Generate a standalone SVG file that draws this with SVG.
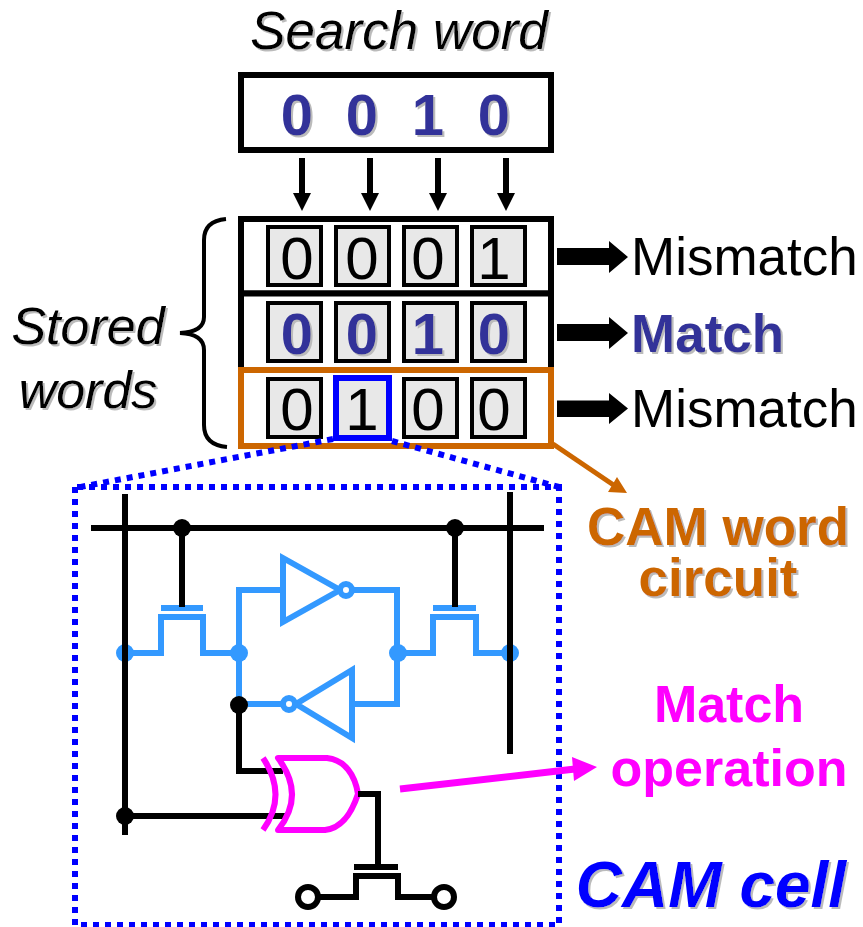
<svg xmlns="http://www.w3.org/2000/svg" width="863" height="927" viewBox="0 0 863 927">
<defs>
<filter id="sh" x="-10%" y="-20%" width="120%" height="140%"><feDropShadow dx="2" dy="2" stdDeviation="0.6" flood-color="#bbbbbb" flood-opacity="1"/></filter>
</defs>
<style>
text{font-family:"Liberation Sans",Arial,sans-serif;text-anchor:middle}
.it{font-style:italic;font-size:52px;fill:#000;filter:url(#sh)}
.bd{font-weight:bold;fill:#333399;filter:url(#sh)}
.d{font-size:58px}
.rg{font-size:60px;fill:#000}
.lb{font-size:53px;fill:#000;text-anchor:start}
.or{font-size:53px;font-weight:bold;fill:#cc6600;filter:url(#sh)}
.mg{font-size:52px;font-weight:bold;fill:#ff00ff}
.cell{fill:#e8e8e8;stroke:#000;stroke-width:4}
.word{fill:#fff;stroke:#000;stroke-width:6}
.w{fill:none;stroke:#000;stroke-width:6}
.b{fill:none;stroke:#3399ff;stroke-width:6}
.m{fill:none;stroke:#ff00ff;stroke-width:6;stroke-linejoin:round}
.dot{fill:none;stroke:#0000ff;stroke-width:6;stroke-dasharray:6 6}
.jk{fill:#000}.jb{fill:#3399ff}
</style>
<g id="search-title"><text class="it" x="399" y="49" style="font-size:53px">Search word</text></g>
<g id="search-word">
<rect class="word" x="241" y="75" width="310" height="75"/>
<text class="bd d" x="297" y="135">0</text><text class="bd d" x="362" y="135">0</text><text class="bd d" x="428" y="135">1</text><text class="bd d" x="494" y="135">0</text>
</g>
<g id="word-1">
<rect class="word" x="241" y="219" width="310" height="74.5"/>
<rect class="cell" x="268" y="227" width="53" height="58"/><rect class="cell" x="336" y="227" width="53" height="58"/><rect class="cell" x="404" y="227" width="53" height="58"/><rect class="cell" x="472" y="227" width="53" height="58"/>
<text class="rg" x="297" y="278.5">0</text><text class="rg" x="362" y="278.5">0</text><text class="rg" x="428" y="278.5">0</text><text class="rg" x="494" y="278.5">1</text>
</g>
<g id="word-2">
<rect class="word" x="241" y="293.5" width="310" height="76.5"/>
<rect class="cell" x="268" y="303" width="53" height="58"/><rect class="cell" x="336" y="303" width="53" height="58"/><rect class="cell" x="404" y="303" width="53" height="58"/><rect class="cell" x="472" y="303" width="53" height="58"/>
<text class="bd d" x="297" y="354">0</text><text class="bd d" x="362" y="354">0</text><text class="bd d" x="428" y="354">1</text><text class="bd d" x="494" y="354">0</text>
</g>
<g id="word-3">
<rect x="241" y="370" width="310" height="76" fill="#fff" stroke="#cc6600" stroke-width="6"/>
<rect class="cell" x="268" y="379" width="53" height="58"/><rect class="cell" x="404" y="379" width="53" height="58"/><rect class="cell" x="472" y="379" width="53" height="58"/>
<rect x="336" y="378" width="53" height="60" fill="#e8e8e8" stroke="#0000ff" stroke-width="6"/>
<text class="rg" x="297" y="430">0</text><text class="rg" x="362" y="430">1</text><text class="rg" x="428" y="430">0</text><text class="rg" x="494" y="430">0</text>
</g>
<g id="stored-words">
<text class="it" x="88" y="344">Stored</text><text class="it" x="88" y="408">words</text>
</g>
<g id="match-labels">
<text class="lb" x="631" y="275">Mismatch</text>
<text class="bd" x="631" y="352" style="font-size:53px;text-anchor:start">Match</text>
<text class="lb" x="631" y="427">Mismatch</text>
</g>
<g id="cam-word-label"><text class="or" x="718" y="545">CAM word</text><text class="or" x="718" y="596">circuit</text></g>
<g id="match-op-label"><text class="mg" x="729" y="722">Match</text><text class="mg" x="729" y="786">operation</text></g>
<g id="cam-cell-label"><text x="711" y="907" style="font-size:64px;font-weight:bold;font-style:italic;fill:#0000ff;filter:url(#sh)">CAM cell</text></g>
<g id="connectors">
<path d="M302 158V195M370 158V195M438 158V195M506 158V195" fill="none" stroke="#000" stroke-width="6"/>
<path d="M293 193H311L302 211ZM361 193H379L370 211ZM429 193H447L438 211ZM497 193H515L506 211Z" fill="#000"/>
<path d="M557 248H609V241L628 257L609 273V265H557ZM557 324H609V317L628 333L609 349V341H557ZM557 400.500H609V393L628 408.500L609 424V417H557Z" fill="#000"/>
<path d="M226 219Q204 221 204 240V317Q204 332 180 333Q204 334 204 350V425Q204 445 227 447" fill="none" stroke="#000" stroke-width="4"/>
<path class="dot" d="M333 439L75 488M392 441L559 487"/>
<path class="dot" stroke-dashoffset="-2" d="M75 487H559V925H75Z" style="stroke-dashoffset:-2"/>
<path d="M553 444L615 486" fill="none" stroke="#cc6600" stroke-width="5"/>
<path d="M627 493L608 492L617 477Z" fill="#cc6600"/>
<path d="M400 789L575 769" fill="none" stroke="#ff00ff" stroke-width="7"/>
<path d="M597 767L572 757L574 781Z" fill="#ff00ff"/>
</g>
<g id="cam-cell">
<path class="b" d="M125 653H161V617H203V653H239M398 653H433V617H476V653H510M161 608H203M433 608H476M239 653V590H283M352 590H397V704H352M239 653V704H283"/>
<path class="b" d="M283 558V622L340 590ZM352 670V738L296 704Z"/>
<circle class="b" cx="346" cy="590" r="6" style="fill:#fff"/><circle class="b" cx="289" cy="704" r="6" style="fill:#fff"/>
<circle class="jb" cx="125" cy="653" r="9"/><circle class="jb" cx="239" cy="653" r="9"/><circle class="jb" cx="398" cy="653" r="9"/><circle class="jb" cx="510" cy="653" r="9"/>
<path class="w" d="M125 494V835M91 528H544M510 492V754M182 528V607M455 528V607M239 705V771H283M125 816H285"/>
<circle class="jk" cx="182" cy="528" r="9"/><circle class="jk" cx="455" cy="528" r="9"/><circle class="jk" cx="239" cy="705" r="9"/><circle class="jk" cx="125" cy="816" r="9"/>
<path class="m" d="M263 758Q288 795 263 830M278 758H327C345 760 355 775 358 794C352 812 343 828 325 830H278Q306 795 278 758Z"/>
<path class="w" d="M358 794H378V866M354 867H398M308 897H356V876H398V897H444"/>
<circle class="w" cx="308" cy="897" r="10" style="fill:#fff"/><circle class="w" cx="444" cy="897" r="10" style="fill:#fff"/>
</g>
</svg>
